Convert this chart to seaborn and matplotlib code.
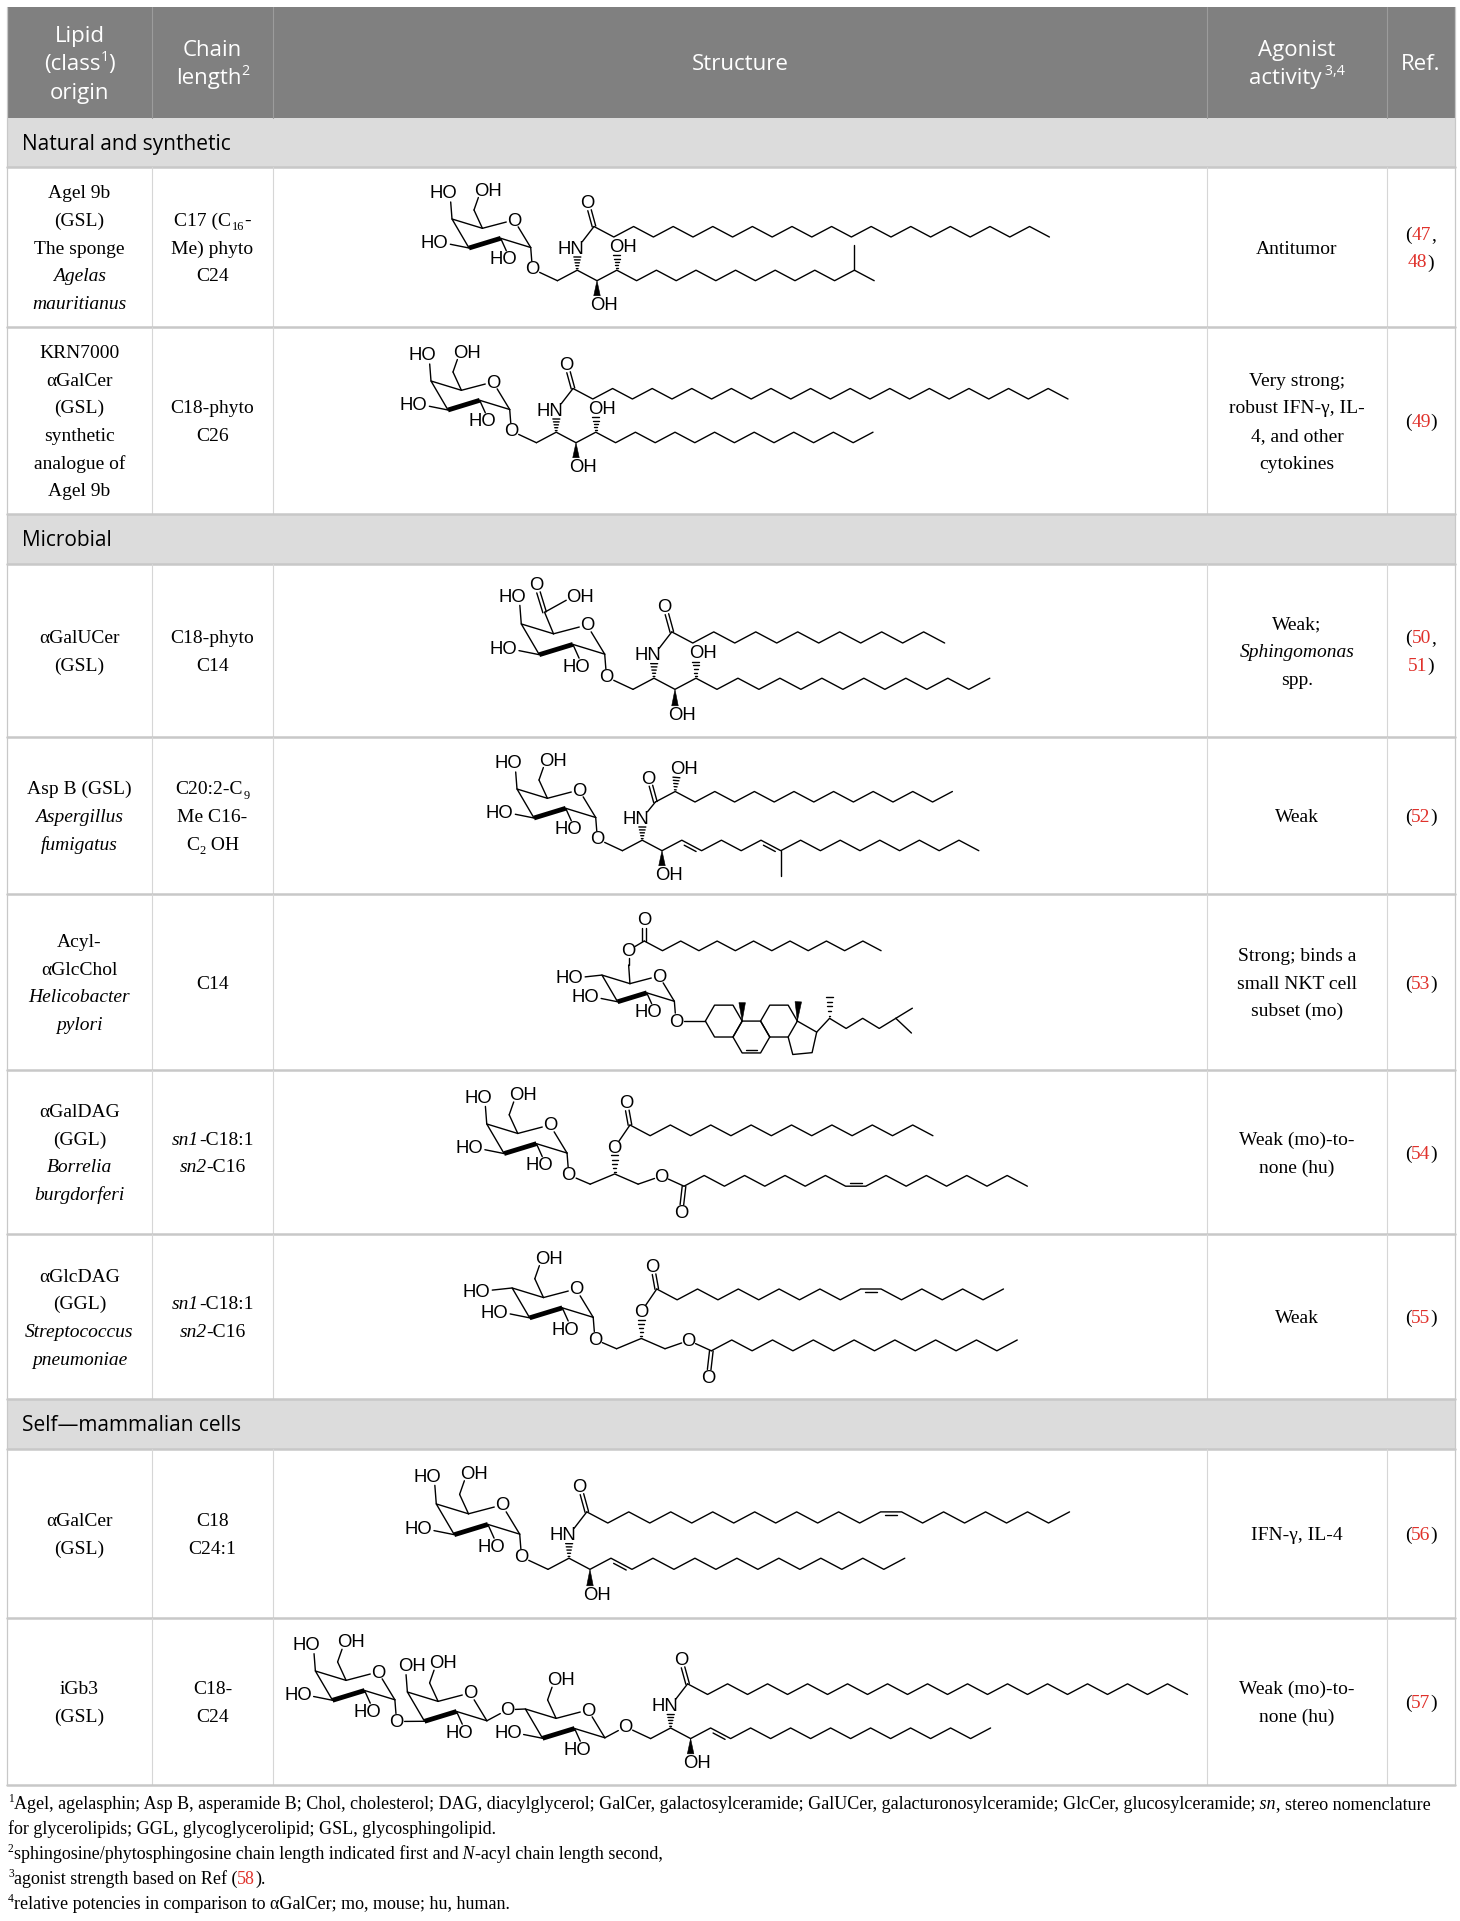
import re
import numpy as np
import pandas as pd
import seaborn as sns
import matplotlib.pyplot as plt
from matplotlib.patches import Rectangle, Polygon

sns.set_theme(style='white')
plt.rcParams['font.family'] = ['Liberation Serif', 'DejaVu Serif']

# ---------------------------------------------------------------
# table content  (*..* italic, ^{..} superscript, _{..} subscript, [..] red)
# ---------------------------------------------------------------
header = [["Lipid", "(class^{1})", "origin"], ["Chain", "length^{2}"], ["Structure"],
          ["Agonist", "activity ^{3,4}"], ["Ref."]]
sections = ["Natural and synthetic", "Microbial", "Self\u2014mammalian cells"]

lipid_origin = [
    ["Agel 9b", "(GSL)", "The sponge", "*Agelas*", "*mauritianus*"],
    ["KRN7000", "αGalCer", "(GSL)", "synthetic", "analogue of", "Agel 9b"],
    ["αGalUCer", "(GSL)"],
    ["Asp B (GSL)", "*Aspergillus*", "*fumigatus*"],
    ["Acyl-", "αGlcChol", "*Helicobacter*", "*pylori*"],
    ["αGalDAG", "(GGL)", "*Borrelia*", "*burgdorferi*"],
    ["αGlcDAG", "(GGL)", "*Streptococcus*", "*pneumoniae*"],
    ["αGalCer", "(GSL)"],
    ["iGb3", "(GSL)"],
]
chain_length = [
    ["C17 (C_{16}-", "Me) phyto", "C24"],
    ["C18-phyto", "C26"],
    ["C18-phyto", "C14"],
    ["C20:2-C_{9}", "Me C16-", "C_{2} OH"],
    ["C14"],
    ["*sn1*-C18:1", "*sn2*-C16"],
    ["*sn1*-C18:1", "*sn2*-C16"],
    ["C18", "C24:1"],
    ["C18-", "C24"],
]
activity = [
    ["Antitumor"],
    ["Very strong;", "robust IFN-γ, IL-", "4, and other", "cytokines"],
    ["Weak;", "*Sphingomonas*", "spp."],
    ["Weak"],
    ["Strong; binds a", "small NKT cell", "subset (mo)"],
    ["Weak (mo)-to-", "none (hu)"],
    ["Weak"],
    ["IFN-γ, IL-4"],
    ["Weak (mo)-to-", "none (hu)"],
]
refs = [["([47],", "[48])"], ["([49])"], ["([50],", "[51])"], ["([52])"], ["([53])"],
        ["([54])"], ["([55])"], ["([56])"], ["([57])"]]
footnotes = [
    "^{1}Agel, agelasphin; Asp B, asperamide B; Chol, cholesterol; DAG, diacylglycerol; GalCer, "
    "galactosylceramide; GalUCer, galacturonosylceramide; GlcCer, glucosylceramide; *sn*, stereo nomenclature",
    "for glycerolipids; GGL, glycoglycerolipid; GSL, glycosphingolipid.",
    "^{2}sphingosine/phytosphingosine chain length indicated first and *N*-acyl chain length second,",
    "^{3}agonist strength based on Ref ([58]).",
    "^{4}relative potencies in comparison to αGalCer; mo, mouse; hu, human.",
]

# structures: head group, lipid type and the bonds counted in each chain
head_group = ['gal', 'gal', 'galA', 'gal', 'glc6acyl', 'gal', 'glc', 'gal', 'gb3']
lipid_kind = ['phyto', 'phyto', 'phyto', 'sph', 'chol', 'dag', 'dag', 'sph', 'sph']
upper_bonds = [23, 25, 13, 15, 13, 15, 17, 23, 25]
lower_bonds = [16, 17, 17, 18, 0, 17, 15, 17, 17]
upper_dbl = [[], [], [], [], [], [], [10], [14], []]
lower_dbl = [[], [], [], [3, 7], [], [8], [], [3], [3]]
methyl_at = [(15, -1), None, None, (8, 1), None, None, None, None, None]
acyl_2oh = [False, False, False, True, False, False, False, False, False]

# ---------------------------------------------------------------
# layout (pixels, y downwards)
# ---------------------------------------------------------------
W, H = 1460, 1921
col_x = [7, 152, 273, 1207, 1387, 1455]
head_top, head_bot = 7, 118
row_plan = [('s', 0, 49), ('d', 0, 160), ('d', 1, 187), ('s', 1, 50), ('d', 2, 173),
            ('d', 3, 157), ('d', 4, 176), ('d', 5, 164), ('d', 6, 165), ('s', 2, 50),
            ('d', 7, 169), ('d', 8, 167)]
ring_anchor = [(514, 220), (493, 382), (587, 625), (579, 790), (659, 976), (550, 1125),
               (576, 1289), (502, 1505), [(378, 1672), (470, 1693), (588, 1710)]]
row_scale = [1.0, 1.0, 1.06, 1.0, 0.92, 1.02, 1.03, 1.06, 1.01]

RED = '#e0322c'
PT = 100 / 72.0
SERIF = ['Liberation Serif', 'DejaVu Serif']
SANS = ['Open Sans', 'DejaVu Sans']
CHEM = ['Liberation Sans', 'DejaVu Sans']
BODY_FS = 14

fig = plt.figure(figsize=(W / 100, H / 100), dpi=100)
ax = fig.add_axes([0, 0, 1, 1])
ax.set_xlim(0, W)
ax.set_ylim(H, 0)
ax.axis('off')
renderer = fig.canvas.get_renderer()


def parse(s):
    toks = [t for t in re.split(r'(\*[^*]+\*|\^\{[^}]*\}|_\{[^}]*\}|\[[^\]]*\])', s) if t]
    runs = []
    for t in toks:
        if t.startswith('*'):
            runs.append([t[1:-1], 'it'])
        elif t.startswith('^{'):
            runs.append([t[2:-1], 'sup'])
        elif t.startswith('_{'):
            runs.append([t[2:-1], 'sub'])
        elif t.startswith('['):
            runs.append([t[1:-1], 'red'])
        else:
            runs.append([t, 'rm'])
    # trailing blanks are not measured, so push them to the next run
    for a, b in zip(runs, runs[1:]):
        st = a[0].rstrip(' ')
        b[0] = ' ' * (len(a[0]) - len(st)) + b[0]
        a[0] = st
    return runs


def rich(x, yc, s, size, family, color='black', ha='center'):
    em = size * PT
    base = yc + 0.34 * em
    items = []
    for txt, st in parse(s):
        small = st in ('sup', 'sub')
        dy = {'sup': -0.40 * em, 'sub': 0.22 * em}.get(st, 0.0)
        t = ax.text(0, base + dy, txt, fontsize=size * (0.64 if small else 1.0), family=family,
                    color=RED if st == 'red' else color,
                    style='italic' if st == 'it' else 'normal',
                    ha='left', va='baseline', zorder=5)
        items.append(t)
    widths = [t.get_window_extent(renderer).width for t in items]
    x0 = x - sum(widths) / 2 if ha == 'center' else x
    for t, w in zip(items, widths):
        t.set_x(x0)
        x0 += w


def block(x, yc, lines, size, family, spacing, color='black'):
    n = len(lines)
    for k, s in enumerate(lines):
        rich(x, yc + (k - (n - 1) / 2) * spacing, s, size, family, color)


# ---------------------------------------------------------------
# table frame and text
# ---------------------------------------------------------------
ax.add_patch(Rectangle((col_x[0], head_top), col_x[-1] - col_x[0], head_bot - head_top,
                       fc='#808080', ec='none', zorder=0))
for cx in col_x[1:-1]:
    ax.plot([cx, cx], [head_top, head_bot], color='#9c9c9c', lw=0.8, zorder=1)
hx = [(a + b) / 2 for a, b in zip(col_x[:-1], col_x[1:])]
for k, lines in enumerate(header):
    block(hx[k], (head_top + head_bot) / 2, lines, 16, SANS, 28.5, color='white')

y = head_bot
data_center = {}
for kind, idx, h in row_plan:
    if kind == 's':
        ax.add_patch(Rectangle((col_x[0], y), col_x[-1] - col_x[0], h, fc='#dcdcdc', ec='none', zorder=0))
        rich(22, y + h / 2, sections[idx], 15, SANS, ha='left')
    else:
        for cx in col_x[1:-1]:
            ax.plot([cx, cx], [y, y + h], color='#d6d6d6', lw=0.8, zorder=1)
        data_center[idx] = y + h / 2
    ax.plot([col_x[0], col_x[-1]], [y + h, y + h], color='#c8c8c8', lw=1.8, zorder=1)
    y += h
for cx in (col_x[0], col_x[-1]):
    ax.plot([cx, cx], [head_top, y], color='#c8c8c8', lw=0.9, zorder=1)

for i in range(9):
    yc = data_center[i]
    block(hx[0], yc, lipid_origin[i], BODY_FS, SERIF, 27.7)
    block(hx[1], yc, chain_length[i], BODY_FS, SERIF, 27.7)
    block(hx[3], yc, activity[i], BODY_FS, SERIF, 27.7)
    block(hx[4], yc, refs[i], BODY_FS, SERIF, 27.7)

for k, s in enumerate(footnotes):
    rich(8, 1803 + 25 * k, s, 12.95, SERIF, ha='left')

# ---------------------------------------------------------------
# skeletal formulas
# ---------------------------------------------------------------
LINES = []
SC = 1.0
STEP, AMP = 19.8, 10.5
LFS = 13.3
HW = 0.39 * LFS * PT   # half width of an "O" label


def P(p, dx=0.0, dy=0.0):
    return np.asarray(p, float) + SC * np.array([dx, dy], float)


def unit(p, q):
    d = np.asarray(q, float) - np.asarray(p, float)
    L = np.hypot(*d)
    return d / L, np.array([-d[1], d[0]]) / L


def cut(p, q, rp=0.0, rq=0.0):
    u, _ = unit(p, q)
    return np.asarray(p, float) + u * rp, np.asarray(q, float) - u * rq


def line(*pts):
    LINES.append([tuple(map(float, p)) for p in pts])


def bond(p, q, rp=0.0, rq=0.0):
    line(*cut(p, q, rp, rq))


def dbond(p, q, rp=0.0, rq=0.0, off=1.8):
    a, b = cut(p, q, rp, rq)
    _, n = unit(p, q)
    line(a + n * off, b + n * off)
    line(a - n * off, b - n * off)


def inner(p, q, mid_y, off=3.3, sh=0.2):
    p = np.asarray(p, float)
    q = np.asarray(q, float)
    _, n = unit(p, q)
    if n[1] * (mid_y - (p[1] + q[1]) / 2) < 0:
        n = -n
    d = q - p
    line(p + d * sh + n * off, q - d * sh + n * off)


def hashed(p, q, rq=0.0, k=5, w1=7.0):
    a, b = cut(p, q, 0, rq)
    _, n = unit(p, q)
    for t in np.linspace(0.12, 1.0, k):
        c = a + (b - a) * t
        w = 1.0 + (w1 - 1.0) * t
        line(c - n * w / 2, c + n * w / 2)


def wedge(p, q, rq=0.0, w=6.5):
    a, b = cut(p, q, 0, rq)
    _, n = unit(p, q)
    ax.add_patch(Polygon([a, b + n * w / 2, b - n * w / 2], closed=True,
                         fc='black', ec='black', lw=0.4, zorder=4))


def bold(p, q, w=4.8):
    p = np.asarray(p, float)
    q = np.asarray(q, float)
    _, n = unit(p, q)
    ax.add_patch(Polygon([p + n * w / 2, q + n * w / 2, q - n * w / 2, p - n * w / 2],
                         closed=True, fc='black', lw=0, zorder=4))


def atom(p, s):
    x, yy = float(p[0]), float(p[1]) + 1.0
    kw = dict(fontsize=LFS, family=CHEM, va='center', zorder=5, color='black')
    if s in ('HO', 'HN'):
        ax.text(x + HW, yy, s, ha='right', **kw)
    elif s == 'OH':
        ax.text(x - HW, yy, s, ha='left', **kw)
    else:
        ax.text(x, yy, s, ha='center', **kw)


def zig(p0, n, first=1, flat=()):
    p0 = np.asarray(p0, float)
    pts, side = [p0], 0
    for j in range(n):
        if j not in flat:
            side = 1 - side
        pts.append(np.array([pts[-1][0] + STEP * SC, p0[1] + first * AMP * SC * side]))
    return np.array(pts)


def chain(p0, n, first=1, dbl=(), flat=()):
    pts = zig(p0, n, first, flat)
    line(*pts)
    mid = p0[1] + first * AMP * SC / 2
    for j in dbl:
        inner(pts[j], pts[j + 1], mid)
    return pts


RING = {'O5': (0, 0), 'C1': (16.7, 27.5), 'C2': (-13.3, 18.3), 'C3': (-45, 28),
        'C4': (-62, -1), 'C5': (-31.6, 8.3)}


def sugar(o, c4='HO', c3=True, c6='OH', anomer='a', acyl_n=0):
    V = {k: P(o, *v) for k, v in RING.items()}
    atom(V['O5'], 'O')
    bond(V['C5'], V['O5'], rq=8)
    bond(V['O5'], V['C1'], rp=8)
    line(V['C1'], V['C2'])
    bold(V['C2'], V['C3'])
    line(V['C3'], V['C4'], V['C5'])
    o2 = P(o, -4, 39)
    bond(V['C2'], o2, rq=9)
    atom(o2, 'HO')
    if c3:
        o3 = P(o, -72.5, 22.5)
        bond(V['C3'], o3, rq=9)
        atom(o3, 'HO')
    if c4 in ('HO', 'OH'):
        o4 = P(o, -64, -27)
        bond(V['C4'], o4, rq=9)
        atom(o4, c4)
    elif c4 == 'left':
        o4 = P(o, -90, 2)
        bond(V['C4'], o4, rq=9)
        atom(o4, 'HO')
    if c6 == 'OH':
        c = P(o, -40, -10)
        line(V['C5'], c)
        o6 = P(o, -33, -30)
        bond(c, o6, rq=8)
        atom(o6, 'OH')
    elif c6 == 'COOH':
        c = P(o, -40, -12)
        line(V['C5'], c)
        od = P(o, -48, -38)
        dbond(c, od, rq=8)
        atom(od, 'O')
        oh = P(o, -13, -27)
        bond(c, oh, rq=8)
        atom(oh, 'OH')
    elif c6 == 'ester':
        c = P(o, -33, -12)
        line(V['C5'], c)
        oe = P(o, -33, -28)
        bond(c, oe, rq=7.5)
        atom(oe, 'O')
        cc = P(o, -16, -38)
        bond(oe, cc, rp=7.5)
        od = P(cc, 0, -23)
        dbond(cc, od, rq=8)
        atom(od, 'O')
        chain(cc, acyl_n, 1)
    g = P(o, 18.4, 49) if anomer == 'a' else P(o, 37, 16.6)
    bond(V['C1'], g, rq=8)
    atom(g, 'O')
    return g, V


def ceramide(g, n_up, n_low, phyto, up_dbl, low_dbl, branch, acyl_oh):
    c1 = P(g, 25, 11.7)
    bond(g, c1, rp=8)
    base = chain(c1, n_low, -1, dbl=low_dbl)
    n_at = P(g, 45, -21)
    hashed(base[1], n_at, rq=9)
    atom(n_at, 'HN')
    if acyl_oh:
        cc, first = P(g, 58, -37), -1
    else:
        cc, first = P(g, 61.6, -42.5), 1
    bond(n_at, cc, rp=8)
    oc = P(cc, -6.6, -24)
    dbond(cc, oc, rq=8)
    atom(oc, 'O')
    acyl = chain(cc, n_up, first, dbl=up_dbl, flat=up_dbl)
    if acyl_oh:
        oh = P(acyl[1], 2, -23)
        hashed(acyl[1], oh, rq=9)
        atom(oh, 'OH')
    o3 = P(base[2], 0, 24)
    wedge(base[2], o3, rq=9)
    atom(o3, 'OH')
    if phyto:
        o4 = P(base[3], 0, -24)
        hashed(base[3], o4, rq=9)
        atom(o4, 'OH')
    if branch:
        k, d = branch
        line(base[k], P(base[k], 0, d * 25))


def dag(g, n_up, n_low, up_dbl, low_dbl):
    a, m, b = P(g, 21, 9), P(g, 45, -1), P(g, 68, 9)
    bond(g, a, rp=8)
    line(a, m, b)
    ou = P(g, 45, -27)
    hashed(m, ou, rq=8)
    atom(ou, 'O')
    cu = P(g, 60, -49)
    bond(ou, cu, rp=7.5)
    od = P(cu, -4, -22)
    dbond(cu, od, rq=8)
    atom(od, 'O')
    chain(cu, n_up, 1, dbl=up_dbl, flat=up_dbl)
    ol = P(g, 91, 1)
    bond(b, ol, rq=7.5)
    atom(ol, 'O')
    cl = P(g, 113, 11)
    bond(ol, cl, rp=7.5)
    od = P(cl, -3, 26)
    dbond(cl, od, rq=8)
    atom(od, 'O')
    chain(cl, n_low, -1, dbl=low_dbl, flat=low_dbl)


def cholesterol(g):
    c3 = P(g, 32, 0)
    bond(g, c3, rp=8)
    s = 20.0 * SC
    h = s * np.sqrt(3) / 2
    ang = np.deg2rad(np.arange(0, 360, 60))

    def hexring(c):
        return np.column_stack([c[0] + s * np.cos(ang), c[1] + s * np.sin(ang)])

    ca = c3 + np.array([s, 0])
    A = hexring(ca)
    B = hexring(ca + np.array([1.5 * s, h]))
    C = hexring(ca + np.array([3 * s, 0]))
    for rg in (A, B, C):
        line(*rg, rg[0])
    inner(B[2], B[1], B[1][1] - h)
    c10, c13, c14 = A[0], C[0], C[1]
    c15 = P(c14, 5, 19)
    c16 = P(c15, 21, -2)
    c17 = P(c13, 21, 12)
    line(c14, c15, c16, c17, c13)
    wedge(c10, P(c10, 0, -20))
    wedge(c13, P(c13, 1, -21))
    c20 = P(c17, 14, -15)
    line(c17, c20)
    hashed(c20, P(c20, 0, -23))
    side = [c20]
    for dy in (11, -11, 11, -11):
        side.append(P(side[-1], 18, dy))
    line(*side)
    line(side[-1], P(side[-1], 18, -11))
    line(side[-1], P(side[-1], 17, 16))


for i in range(9):
    SC = row_scale[i]
    kind = head_group[i]
    if kind == 'gb3':
        o1, o2, o3 = ring_anchor[i]
        g1, _ = sugar(o1)
        g2, V2 = sugar(o2, c4='OH', c3=False, anomer='b')
        bond(g1, V2['C3'], rp=8)
        g, V3 = sugar(o3, c4=None, anomer='b')
        bond(g2, V3['C4'], rp=8)
    elif kind == 'galA':
        g, _ = sugar(ring_anchor[i], c6='COOH')
    elif kind == 'glc':
        g, _ = sugar(ring_anchor[i], c4='left')
    elif kind == 'glc6acyl':
        g, _ = sugar(ring_anchor[i], c4='left', c6='ester', acyl_n=upper_bonds[i])
    else:
        g, _ = sugar(ring_anchor[i])

    lk = lipid_kind[i]
    if lk == 'chol':
        cholesterol(g)
    elif lk == 'dag':
        dag(g, upper_bonds[i], lower_bonds[i], upper_dbl[i], lower_dbl[i])
    else:
        ceramide(g, upper_bonds[i], lower_bonds[i], lk == 'phyto',
                 upper_dbl[i], lower_dbl[i], methyl_at[i], acyl_2oh[i])

# every bond line goes through seaborn as one unit each
records = [(u, j, x, yy) for u, pts in enumerate(LINES) for j, (x, yy) in enumerate(pts)]
bonds = pd.DataFrame(records, columns=['unit', 'order', 'x', 'y'])
sns.lineplot(data=bonds, x='x', y='y', units='unit', estimator=None, sort=False,
             color='black', linewidth=1.0, ax=ax, legend=False, zorder=4)

ax.set_xlim(0, W)
ax.set_ylim(H, 0)
ax.axis('off')
fig.savefig('out.png', dpi=100, facecolor='white')
